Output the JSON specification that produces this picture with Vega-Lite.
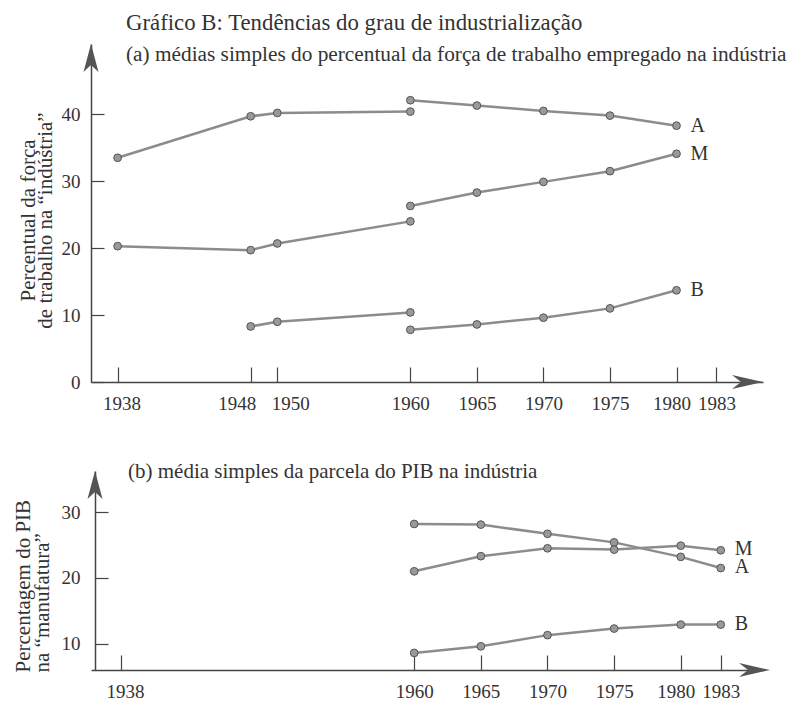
{
  "$schema": "https://vega.github.io/schema/vega-lite/v6.json",
  "background": "white",
  "padding": {"left": 12, "top": 12, "right": 5, "bottom": 2},
  "bounds": "flush",
  "spacing": 89,
  "config": {
    "font": "Liberation Serif",
    "view": {"stroke": null},
    "axis": {
      "grid": false,
      "labelFont": "Liberation Serif",
      "labelFontSize": 19,
      "labelColor": "#333",
      "titleFont": "Liberation Serif",
      "titleFontSize": 21,
      "titleFontWeight": "normal",
      "titleColor": "#333",
      "domainColor": "#444",
      "domainWidth": 1.5,
      "tickColor": "#444",
      "tickWidth": 1.2,
      "labelOverlap": false,
      "labelFlush": false
    }
  },
  "datasets": {
    "top": [
      {"seg": "A1", "year": 1938, "v": 33.5},
      {"seg": "A1", "year": 1948, "v": 39.7},
      {"seg": "A1", "year": 1950, "v": 40.2},
      {"seg": "A1", "year": 1960, "v": 40.4},
      {"seg": "A2", "year": 1960, "v": 42.1},
      {"seg": "A2", "year": 1965, "v": 41.3},
      {"seg": "A2", "year": 1970, "v": 40.5},
      {"seg": "A2", "year": 1975, "v": 39.8},
      {"seg": "A2", "year": 1980, "v": 38.3},
      {"seg": "M1", "year": 1938, "v": 20.3},
      {"seg": "M1", "year": 1948, "v": 19.7},
      {"seg": "M1", "year": 1950, "v": 20.7},
      {"seg": "M1", "year": 1960, "v": 24.0},
      {"seg": "M2", "year": 1960, "v": 26.3},
      {"seg": "M2", "year": 1965, "v": 28.3},
      {"seg": "M2", "year": 1970, "v": 29.9},
      {"seg": "M2", "year": 1975, "v": 31.5},
      {"seg": "M2", "year": 1980, "v": 34.1},
      {"seg": "B1", "year": 1948, "v": 8.3},
      {"seg": "B1", "year": 1950, "v": 9.0},
      {"seg": "B1", "year": 1960, "v": 10.4},
      {"seg": "B2", "year": 1960, "v": 7.8},
      {"seg": "B2", "year": 1965, "v": 8.6},
      {"seg": "B2", "year": 1970, "v": 9.6},
      {"seg": "B2", "year": 1975, "v": 11.0},
      {"seg": "B2", "year": 1980, "v": 13.7}
    ],
    "topLabels": [
      {"label": "A", "year": 1980, "v": 38.3},
      {"label": "M", "year": 1980, "v": 34.1},
      {"label": "B", "year": 1980, "v": 13.7}
    ],
    "topArrows": [
      {"dir": "up", "year": 1936, "v": 50.5},
      {"dir": "right", "year": 1986.5, "v": 0}
    ],
    "bottom": [
      {"seg": "A", "year": 1960, "v": 28.2},
      {"seg": "A", "year": 1965, "v": 28.1},
      {"seg": "A", "year": 1970, "v": 26.7},
      {"seg": "A", "year": 1975, "v": 25.4},
      {"seg": "A", "year": 1980, "v": 23.2},
      {"seg": "A", "year": 1983, "v": 21.5},
      {"seg": "M", "year": 1960, "v": 21.0},
      {"seg": "M", "year": 1965, "v": 23.3},
      {"seg": "M", "year": 1970, "v": 24.5},
      {"seg": "M", "year": 1975, "v": 24.3},
      {"seg": "M", "year": 1980, "v": 24.9},
      {"seg": "M", "year": 1983, "v": 24.2},
      {"seg": "B", "year": 1960, "v": 8.6},
      {"seg": "B", "year": 1965, "v": 9.6},
      {"seg": "B", "year": 1970, "v": 11.3},
      {"seg": "B", "year": 1975, "v": 12.3},
      {"seg": "B", "year": 1980, "v": 12.9},
      {"seg": "B", "year": 1983, "v": 12.9}
    ],
    "bottomLabels": [
      {"label": "M", "year": 1983, "v": 24.2},
      {"label": "A", "year": 1983, "v": 21.5},
      {"label": "B", "year": 1983, "v": 12.9}
    ],
    "bottomArrows": [
      {"dir": "up", "year": 1936.05, "v": 36.25},
      {"dir": "right", "year": 1986.7, "v": 6}
    ]
  },
  "vconcat": [
    {
      "width": 672,
      "height": 338,
      "title": {
        "text": "Gráfico B: Tendências do grau de industrialização",
        "subtitle": "(a) médias simples do percentual da força de trabalho empregado na indústria",
        "anchor": "start",
        "frame": "group",
        "dx": 35,
        "offset": -21.3,
        "font": "Liberation Serif",
        "fontSize": 22.8,
        "fontWeight": "normal",
        "color": "#333",
        "subtitleFont": "Liberation Serif",
        "subtitleFontSize": 21.3,
        "subtitleColor": "#333",
        "subtitlePadding": 9
      },
      "encoding": {
        "x": {
          "field": "year",
          "type": "quantitative",
          "scale": {"domain": [1936, 1986.5], "nice": false, "zero": false},
          "axis": {
            "title": null,
            "values": [1938, 1948, 1950, 1960, 1965, 1970, 1975, 1980, 1983],
            "format": "d",
            "tickSize": -15,
            "labelPadding": 27,
            "labelOffset": {"condition": [
              {"test": "datum.value == 1948", "value": -14},
              {"test": "datum.value == 1950", "value": 13},
              {"test": "datum.value == 1980", "value": -5},
              {"test": "datum.value == 1938", "value": 4}
            ], "value": 0}
          }
        },
        "y": {
          "field": "v",
          "type": "quantitative",
          "scale": {"domain": [0, 50.5], "nice": false, "zero": false},
          "axis": {
            "title": ["Percentual da força", "de trabalho na “indústria”"],
            "titleX": -57,
            "titleY": 176,
            "titleAlign": "center",
            "titleBaseline": "alphabetic",
            "titleLineHeight": 17,
            "values": [0, 10, 20, 30, 40],
            "tickSize": -13,
            "labelPadding": 24
          }
        }
      },
      "layer": [
        {
          "data": {"name": "top"},
          "mark": {"type": "line", "color": "#8c8c8c", "strokeWidth": 2.5},
          "encoding": {"detail": {"field": "seg"}}
        },
        {
          "data": {"name": "top"},
          "mark": {"type": "point", "filled": true, "shape": "circle", "size": 60, "color": "#999", "stroke": "#555", "strokeWidth": 1, "opacity": 1}
        },
        {
          "data": {"name": "topLabels"},
          "mark": {"type": "text", "align": "left", "baseline": "middle", "dx": 14, "dy": 0, "fontSize": 20, "color": "#333", "font": "Liberation Serif"},
          "encoding": {"text": {"field": "label"}}
        },
        {
          "data": {"name": "topArrows"},
          "mark": {"type": "point", "filled": true, "size": 400, "color": "#555", "opacity": 1},
          "encoding": {
            "shape": {"field": "dir", "type": "nominal", "legend": null,
              "scale": {"domain": ["up", "right"], "range": ["M0,0 L0.75,2.8 L0,2.1 L-0.75,2.8 Z", "M0,0 L-3.1,-0.7 L-2.2,0 L-3.1,0.7 Z"]}}
          }
        }
      ]
    },
    {
      "width": 672,
      "height": 199,
      "title": {
        "text": "(b) média simples da parcela do PIB na indústria",
        "anchor": "start",
        "frame": "group",
        "dx": 37,
        "offset": -28.4,
        "baseline": "alphabetic",
        "font": "Liberation Serif",
        "fontSize": 21,
        "fontWeight": "normal",
        "color": "#333"
      },
      "encoding": {
        "x": {
          "field": "year",
          "type": "quantitative",
          "scale": {"domain": [1935.75, 1986.17], "nice": false, "zero": false},
          "axis": {
            "title": null,
            "values": [1938, 1960, 1965, 1970, 1975, 1980, 1983],
            "format": "d",
            "tickSize": -15,
            "labelPadding": 27,
            "labelOffset": {"condition": [
              {"test": "datum.value == 1980", "value": -5},
              {"test": "datum.value == 1938", "value": 4}
            ], "value": 0}
          }
        },
        "y": {
          "field": "v",
          "type": "quantitative",
          "scale": {"domain": [6, 36.25], "nice": false, "zero": false},
          "axis": {
            "title": ["Percentagem do PIB", "na “manufatura”"],
            "offset": -4,
            "titleX": -66,
            "titleY": 201,
            "titleAlign": "left",
            "titleBaseline": "alphabetic",
            "titleLineHeight": 19,
            "values": [10, 20, 30],
            "tickSize": -13,
            "labelPadding": 28
          }
        }
      },
      "layer": [
        {
          "data": {"name": "bottom"},
          "mark": {"type": "line", "color": "#8c8c8c", "strokeWidth": 2.5},
          "encoding": {"detail": {"field": "seg"}}
        },
        {
          "data": {"name": "bottom"},
          "mark": {"type": "point", "filled": true, "shape": "circle", "size": 60, "color": "#999", "stroke": "#555", "strokeWidth": 1, "opacity": 1}
        },
        {
          "data": {"name": "bottomLabels"},
          "mark": {"type": "text", "align": "left", "baseline": "middle", "dx": 14, "dy": -1, "fontSize": 20, "color": "#333", "font": "Liberation Serif"},
          "encoding": {"text": {"field": "label"}}
        },
        {
          "data": {"name": "bottomArrows"},
          "mark": {"type": "point", "filled": true, "size": 400, "color": "#555", "opacity": 1},
          "encoding": {
            "shape": {"field": "dir", "type": "nominal", "legend": null,
              "scale": {"domain": ["up", "right"], "range": ["M0,0 L0.75,2.8 L0,2.1 L-0.75,2.8 Z", "M0,0 L-3.1,-0.7 L-2.2,0 L-3.1,0.7 Z"]}}
          }
        }
      ]
    }
  ]
}
